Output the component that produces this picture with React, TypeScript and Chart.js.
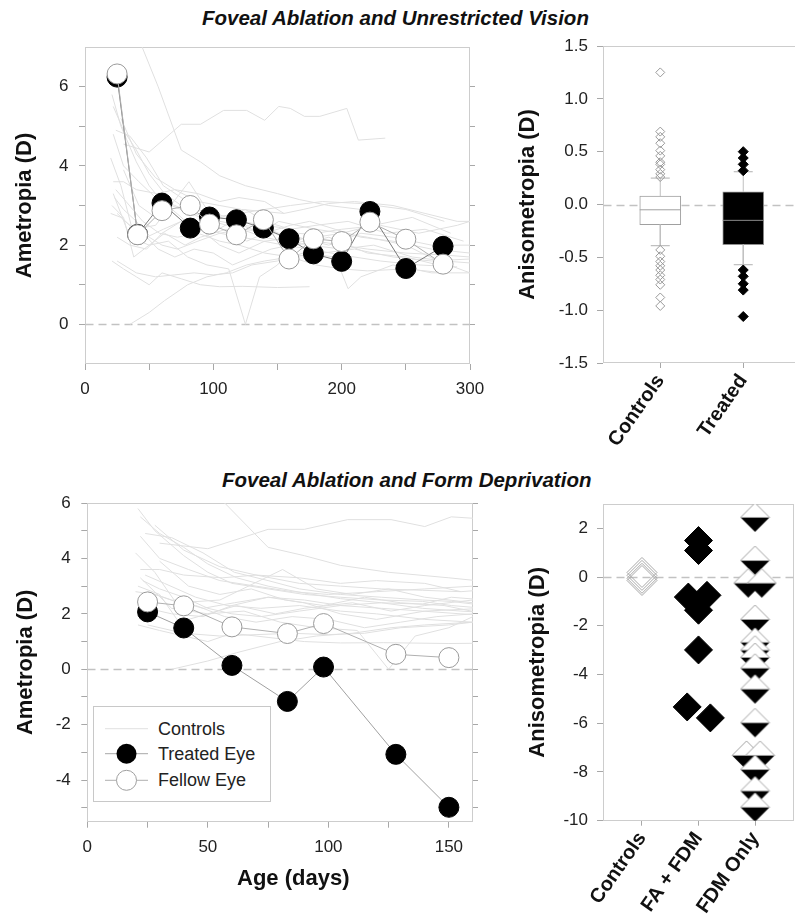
import React, { useEffect, useRef } from 'react';
import { Chart, registerables } from 'chart.js';

Chart.register(...registerables);

const FONT = '"Liberation Sans", Arial, Helvetica, sans-serif';
Chart.defaults.font.family = FONT;
Chart.defaults.color = '#222';

// ---------------- DATA ----------------
// Control animals: [age (days), ametropia (D)]
const ctrl01 = [[30, 4.55], [50, 4.35], [75, 5.05], [90, 5.05], [108, 5.4], [126, 5.4], [140, 5.15], [151, 5.5], [160, 5.45], [171, 5.25], [183, 5.25], [204, 5.45], [213, 4.65], [234, 4.7]];
const ctrl02 = [[42, 7.2], [57, 6.0], [75, 4.4], [90, 4.1], [105, 3.75], [125, 3.5], [150, 3.3], [167, 3.15], [190, 3.0], [215, 2.9]];
const ctrl03 = [[21, 5.8], [28, 5.0], [40, 4.1], [50, 3.5], [60, 3.1], [75, 2.9], [90, 2.7], [105, 2.6], [122, 2.5], [139, 2.45], [151, 2.3], [165, 2.2], [180, 2.1], [200, 2.0], [220, 1.9], [250, 1.8], [280, 1.75], [300, 1.7]];
const ctrl04 = [[22, 5.5], [30, 4.9], [40, 4.4], [50, 3.8], [62, 3.3], [75, 3.0], [90, 2.75], [105, 2.55], [122, 2.4], [139, 2.35], [151, 2.6], [165, 2.5], [180, 2.4], [200, 2.3], [220, 2.2], [250, 2.0], [275, 1.6], [300, 1.3]];
const ctrl05 = [[24, 4.9], [35, 4.75], [48, 4.2], [61, 3.5], [75, 3.2], [88, 2.9], [105, 2.7], [122, 2.6], [139, 2.5], [151, 2.45], [165, 2.3], [185, 2.25]];
const ctrl06 = [[20, 4.2], [28, 3.5], [36, 2.5], [48, 2.2], [61, 2.4], [75, 2.6], [90, 2.5], [105, 2.3], [122, 2.2], [139, 2.1], [155, 2.0], [175, 1.9], [200, 1.75], [230, 1.6], [260, 1.5], [290, 1.45]];
const ctrl07 = [[22, 3.6], [30, 3.6], [40, 3.4], [56, 3.3], [70, 3.4], [88, 3.1], [105, 3.0], [122, 2.9], [139, 2.85], [155, 2.8], [170, 2.9], [190, 3.05], [210, 3.1], [240, 3.0], [265, 2.8], [290, 2.6], [300, 2.6]];
const ctrl08 = [[23, 3.2], [30, 2.9], [40, 2.6], [50, 2.2], [60, 2.0], [72, 1.9], [88, 2.1], [105, 2.3], [122, 2.4], [139, 2.2], [155, 2.1], [175, 2.0], [200, 1.9], [225, 2.0], [255, 1.7], [280, 1.6], [300, 1.55]];
const ctrl09 = [[25, 2.8], [35, 2.5], [45, 2.3], [57, 1.9], [70, 1.7], [85, 1.9], [100, 1.8], [115, 1.5], [130, 1.7], [145, 1.9], [160, 2.0], [180, 2.2], [200, 2.3], [225, 2.5], [255, 2.7], [285, 2.3]];
const ctrl10 = [[21, 3.0], [30, 2.7], [38, 1.7], [50, 2.0], [62, 2.3], [78, 2.0], [90, 2.2], [110, 2.4], [126, 2.1], [140, 2.3], [160, 2.5], [175, 2.6], [195, 2.4], [215, 2.2], [240, 2.1], [270, 1.9], [300, 1.8]];
const ctrl11 = [[35, 0.0], [50, 0.3], [62, 0.6], [80, 1.0], [95, 1.2], [110, 1.3], [126, 1.5], [140, 1.6], [160, 1.7], [180, 1.5], [200, 1.4], [220, 1.35], [250, 1.4], [280, 1.3]];
const ctrl12 = [[22, 3.3], [35, 2.2], [50, 2.0], [65, 2.1], [80, 1.7], [95, 1.5], [112, 1.4], [125, 0.0], [136, 1.2], [150, 1.5], [165, 2.1], [180, 2.3], [200, 2.4], [230, 2.5], [260, 2.3], [290, 2.5], [300, 2.6]];
const ctrl13 = [[21, 1.6], [30, 1.4], [40, 1.2], [50, 1.0], [60, 1.3], [75, 1.15], [90, 1.0], [105, 0.95], [123, 0.96], [150, 0.93], [175, 0.95]];
const ctrl14 = [[25, 1.6], [40, 1.3], [55, 1.2], [70, 1.25], [85, 1.3], [100, 1.25], [115, 1.3], [130, 1.5], [150, 1.6], [170, 1.8], [195, 1.7], [205, 0.9], [215, 1.2], [240, 1.5], [270, 1.3], [300, 1.3]];
const ctrl15 = [[20, 2.8], [28, 2.7], [38, 2.4], [55, 2.5], [81, 3.6], [95, 2.9], [110, 2.7], [125, 2.9], [140, 2.6], [160, 2.4], [180, 2.5], [205, 2.6], [235, 2.3], [265, 2.4], [295, 2.1]];
const ctrl16 = [[24, 3.4], [32, 3.1], [45, 2.6], [58, 2.3], [72, 2.2], [88, 2.3], [105, 2.1], [120, 2.0], [140, 1.8], [160, 1.7], [185, 1.8], [210, 1.9], [240, 1.7], [270, 1.6], [300, 1.65]];
const ctrl17 = [[22, 4.8], [30, 4.0], [42, 3.6], [55, 3.2], [70, 3.0], [85, 2.8], [100, 2.7], [120, 2.8], [140, 2.9], [160, 3.0], [185, 3.1], [215, 3.05], [250, 2.9], [280, 2.6]];
const ctrl18 = [[28, 5.2], [40, 4.3], [55, 3.7], [70, 3.4], [88, 3.3], [105, 3.1], [120, 3.2], [140, 3.1], [155, 2.8]];
const ctrl19 = [[25, 2.2], [35, 2.0], [48, 1.9], [60, 2.3], [75, 2.6], [90, 2.4], [105, 2.0], [120, 1.8], [140, 2.1], [165, 2.2], [190, 2.0], [215, 2.3], [240, 2.2], [270, 2.0], [300, 2.0]];
const ctrl20 = [[30, 3.9], [42, 3.0], [55, 2.7], [68, 2.9], [82, 2.5], [98, 2.3], [115, 2.6], [130, 2.4], [148, 2.3], [165, 2.0], [190, 2.2], [220, 1.8], [250, 1.7], [275, 1.5]];
const controls = [ctrl01, ctrl02, ctrl03, ctrl04, ctrl05, ctrl06, ctrl07, ctrl08, ctrl09, ctrl10,
  ctrl11, ctrl12, ctrl13, ctrl14, ctrl15, ctrl16, ctrl17, ctrl18, ctrl19, ctrl20];

// Foveal ablation + unrestricted vision
const uvAges = [25, 41, 60, 82, 97, 118, 139, 159, 178, 200, 222, 250, 279];
const uvTreated = [6.24, 2.27, 3.06, 2.43, 2.71, 2.64, 2.43, 2.16, 1.78, 1.59, 2.85, 1.41, 1.97];
const uvFellow = [6.32, 2.26, 2.87, 3.0, 2.53, 2.26, 2.64, 1.65, 2.16, 2.09, 2.58, 2.15, 1.52];

// Foveal ablation + form deprivation
const fdAges = [25, 40, 60, 83, 98, 128, 150];
const fdTreated = [2.07, 1.49, 0.14, -1.16, 0.08, -3.07, -4.98];
const fdFellow = [2.43, 2.29, 1.53, 1.29, 1.65, 0.54, 0.42];

// Box plot (anisometropia, unrestricted vision)
const boxCats = ['Controls', 'Treated'];
const boxQ1 = [-0.19, -0.38];
const boxMedian = [-0.05, -0.15];
const boxQ3 = [0.08, 0.12];
const boxWhiskerLo = [-0.39, -0.57];
const boxWhiskerHi = [0.25, 0.31];
const boxCtrlOutliers = [1.25, 0.69, 0.64, 0.58, 0.51, 0.46, 0.4, 0.38, 0.33, 0.29, 0.26,
  -0.43, -0.49, -0.54, -0.58, -0.62, -0.67, -0.71, -0.76, -0.88, -0.96];
const boxTreatedOutliers = [0.5, 0.44, 0.38, 0.32, -0.62, -0.68, -0.75, -0.81, -1.06];

// Anisometropia, form deprivation
const anisoCats = ['Controls', 'FA + FDM', 'FDM Only'];
const anisoCtrlX = [1, 1, 1, 1];
const anisoCtrlY = [0.19, 0.07, -0.05, -0.14];
const anisoFaX = [2, 2, 1.82, 2.15, 2, 2, 1.8, 2.21];
const anisoFaY = [1.5, 1.09, -0.82, -0.75, -1.36, -2.99, -5.33, -5.78];
const anisoFdmX = [3, 3, 2.88, 3.12, 3, 3, 3, 3, 3, 3, 3, 2.85, 3.09, 3, 3, 3];
const anisoFdmY = [2.45, 0.68, -0.25, -0.25, -1.74, -2.68, -3.0, -3.3, -3.74, -4.6, -5.98, -7.32, -7.32, -7.9, -8.78, -9.45];

// Axis ticks
const uvXTicks = [0, 50, 100, 150, 200, 250, 300];
const uvYTicks = [0, 1, 2, 3, 4, 5, 6];
const fdXTicks = [0, 25, 50, 75, 100, 125, 150];
const fdYTicks = [-5, -4, -3, -2, -1, 0, 1, 2, 3, 4, 5, 6];
const boxYTicks = [-1.5, -1.0, -0.5, 0.0, 0.5, 1.0, 1.5];
const anisoYTicks = [-10, -8, -6, -4, -2, 0, 2];

// ---------------- HELPERS ----------------
const pts = (xs: number[], ys: number[]) => xs.map((x, i) => ({ x, y: ys[i] }));

const framePlugin = {
  id: 'frame',
  beforeDatasetsDraw(chart: any) {
    const { ctx, chartArea: a } = chart;
    const L = Math.round(a.left) + 0.5;
    const R = Math.round(a.right) - 0.5;
    const T = Math.round(a.top) + 0.5;
    const B = Math.round(a.bottom) - 0.5;
    ctx.save();
    ctx.strokeStyle = '#cdcdcd';
    ctx.lineWidth = 1;
    ctx.strokeRect(L, T, R - L, B - T);
    const y0 = Math.round(chart.scales.y.getPixelForValue(0)) + 0.5;
    ctx.setLineDash([8, 5]);
    ctx.strokeStyle = '#c2c2c2';
    ctx.lineWidth = 1.3;
    ctx.beginPath();
    ctx.moveTo(L, y0);
    ctx.lineTo(R, y0);
    ctx.stroke();
    ctx.restore();
  },
};

const setTicks = (vals: number[]) => (s: any) => {
  s.ticks = vals.map((v) => ({ value: v }));
};
// Fixed axis sizes; label overhang must not shrink the plot area
const fixW = (w: number) => (s: any) => { s.width = w; s.paddingTop = 0; s.paddingBottom = 0; };
const fixH = (h: number) => (s: any) => { s.height = h; s.paddingLeft = 0; s.paddingRight = 0; };

const tickGrid = { drawOnChartArea: false, tickLength: 6, color: '#a8a8a8', lineWidth: 1, offset: false };
const noBorder = { display: false };
const tickFont = { size: 17 };
const titleFont = { size: 22, weight: 'bold' as const };

function controlDatasets() {
  return controls.map((line) => ({
    type: 'line',
    data: line.map(([x, y]) => ({ x, y })),
    borderColor: '#e0e0e0',
    borderWidth: 1,
    pointRadius: 0,
    order: 5,
  }));
}

function eyeDatasets(ages: number[], treated: number[], fellow: number[], treatedLine: string) {
  return [
    {
      type: 'line', label: 'Fellow Eye', data: pts(ages, fellow),
      borderColor: '#b0b0b0', borderWidth: 1, pointRadius: 10,
      pointBackgroundColor: '#ffffff', pointBorderColor: '#9a9a9a', pointBorderWidth: 1, order: 1,
    },
    {
      type: 'line', label: 'Treated Eye', data: pts(ages, treated),
      borderColor: treatedLine, borderWidth: 1, pointRadius: 10,
      pointBackgroundColor: '#000000', pointBorderColor: '#000000', pointBorderWidth: 1, order: 2,
    },
  ];
}

function ametropiaConfig(p: any) {
  return {
    type: 'scatter',
    data: { datasets: [...eyeDatasets(p.ages, p.treated, p.fellow, p.treatedLine), ...controlDatasets()] },
    options: {
      responsive: false,
      animation: false,
      events: [],
      layout: { padding: { top: p.padTop, left: 0, right: 0, bottom: 0 }, autoPadding: false },
      plugins: { legend: { display: false }, tooltip: { enabled: false } },
      scales: {
        x: {
          type: 'linear', min: p.xMin, max: p.xMax, offset: false,
          afterBuildTicks: setTicks(p.xTicks),
          afterFit: fixH(p.xH),
          ticks: { callback: (v: number) => (v % p.xLabelStep === 0 ? String(v) : ''), font: tickFont, color: '#222', padding: 9, maxRotation: 0, autoSkip: false },
          grid: tickGrid, border: noBorder,
        },
        y: {
          type: 'linear', position: 'left', min: p.yMin, max: p.yMax,
          afterBuildTicks: setTicks(p.yTicks),
          afterFit: fixW(p.yW),
          ticks: { callback: (v: number) => (v % 2 === 0 ? String(v) : ''), font: tickFont, color: '#222', padding: 10.5, autoSkip: false },
          grid: tickGrid, border: noBorder,
          title: { display: true, text: 'Ametropia (D)', font: titleFont, color: '#111', padding: { top: p.yTitlePad, bottom: 0 } },
        },
        yR: {
          type: 'linear', position: 'right', min: p.yMin, max: p.yMax,
          afterBuildTicks: setTicks(p.yTicks),
          afterFit: fixW(p.yRW),
          ticks: { display: false },
          grid: { drawOnChartArea: false, tickLength: 5, color: '#a8a8a8' }, border: noBorder,
        },
      },
    },
    plugins: [framePlugin],
  };
}

function makeA() {
  return ametropiaConfig({
    ages: uvAges, treated: uvTreated, fellow: uvFellow, treatedLine: '#7a7a7a',
    padTop: 7, xMin: 0, xMax: 300, xTicks: uvXTicks, xLabelStep: 100, xH: 46,
    yMin: -1, yMax: 7, yTicks: uvYTicks, yW: 85, yRW: 24, yTitlePad: 11.8,
  });
}

function makeC() {
  return ametropiaConfig({
    ages: fdAges, treated: fdTreated, fellow: fdFellow, treatedLine: '#a0a0a0',
    padTop: 13, xMin: 0, xMax: 160, xTicks: fdXTicks, xLabelStep: 50, xH: 78.3,
    yMin: -5.5, yMax: 6, yTicks: fdYTicks, yW: 87.3, yRW: 7, yTitlePad: 12.3,
  });
}

function catAxis(cats: string[], min: number, max: number, h: number) {
  return {
    type: 'linear', min, max, offset: false,
    afterBuildTicks: setTicks(cats.map((_, i) => i + 1)),
    afterFit: fixH(h),
    ticks: {
      callback: (v: number) => cats[Math.round(v) - 1] || '',
      font: { size: 20, weight: 'bold' }, color: '#111',
      minRotation: 55, maxRotation: 55, autoSkip: false, padding: 2,
    },
    grid: { drawOnChartArea: false, tickLength: 5, color: '#a8a8a8', offset: false }, border: noBorder,
  };
}

function anisoYAxis(min: number, max: number, ticks: number[], fmt: (v: number) => string, w: number, pad: number) {
  return {
    type: 'linear', min, max,
    afterBuildTicks: setTicks(ticks),
    afterFit: fixW(w),
    ticks: { callback: fmt, font: tickFont, color: '#222', padding: 9, autoSkip: false },
    grid: tickGrid, border: noBorder,
    title: { display: true, text: 'Anisometropia (D)', font: titleFont, color: '#111', padding: { top: pad, bottom: 0 } },
  };
}

function makeB() {
  const whiskers: any[] = [];
  const caps: any[] = [];
  boxQ3.forEach((q3, i) => {
    const x = i + 1;
    whiskers.push({ x, y: q3 }, { x, y: boxWhiskerHi[i] }, { x, y: null },
      { x, y: boxQ1[i] }, { x, y: boxWhiskerLo[i] }, { x, y: null });
    caps.push({ x, y: boxWhiskerHi[i] }, { x, y: boxWhiskerLo[i] });
  });
  return {
    type: 'scatter',
    data: {
      datasets: [
        {
          type: 'scatter', data: boxCtrlOutliers.map((y) => ({ x: 1, y })),
          pointStyle: 'rectRot', pointRadius: 4.5, pointBackgroundColor: 'rgba(255,255,255,0)',
          pointBorderColor: '#9a9a9a', pointBorderWidth: 1, order: 0,
        },
        {
          type: 'scatter', data: boxTreatedOutliers.map((y) => ({ x: 2, y })),
          pointStyle: 'rectRot', pointRadius: 5, pointBackgroundColor: '#000',
          pointBorderColor: '#000', pointBorderWidth: 1, order: 0,
        },
        {
          type: 'scatter', data: pts([1, 2], boxMedian),
          pointStyle: 'line', pointRadius: 20.5, pointBorderColor: ['#a0a0a0', '#8a8a8a'], pointBorderWidth: 1, order: 1,
        },
        {
          type: 'scatter', data: caps,
          pointStyle: 'line', pointRadius: 9.5, pointBorderColor: '#b0b0b0', pointBorderWidth: 1, order: 2,
        },
        {
          type: 'line', data: whiskers, borderColor: '#c0c0c0', borderWidth: 1, pointRadius: 0, spanGaps: false, order: 3,
        },
        {
          type: 'bar', data: [1, 2].map((x, i) => ({ x, y: [boxQ1[i], boxQ3[i]] })),
          backgroundColor: ['#ffffff', '#000000'], borderColor: ['#a0a0a0', '#909090'],
          borderWidth: 1, borderSkipped: false, barThickness: 41, order: 4,
        },
      ],
    },
    options: {
      responsive: false, animation: false, events: [],
      layout: { padding: { top: 26, left: 0, right: 9.5, bottom: 0 }, autoPadding: false },
      plugins: { legend: { display: false }, tooltip: { enabled: false } },
      scales: {
        x: catAxis(boxCats, 0.31, 2.69, 97),
        y: anisoYAxis(-1.5, 1.5, boxYTicks, (v: number) => v.toFixed(1), 103, 14.8),
      },
    },
    plugins: [framePlugin],
  };
}

function halfDiamond(r: number) {
  const c = document.createElement('canvas');
  const s = Math.ceil(2 * r + 2);
  c.width = s;
  c.height = s;
  const g = c.getContext('2d') as CanvasRenderingContext2D;
  const m = s / 2;
  g.beginPath();
  g.moveTo(m - r, m);
  g.lineTo(m + r, m);
  g.lineTo(m, m + r);
  g.closePath();
  g.fillStyle = '#000';
  g.fill();
  g.beginPath();
  g.moveTo(m - r, m);
  g.lineTo(m, m - r);
  g.lineTo(m + r, m);
  g.closePath();
  g.fillStyle = '#fff';
  g.fill();
  g.strokeStyle = '#a0a0a0';
  g.lineWidth = 1;
  g.stroke();
  return c;
}

function makeD() {
  return {
    type: 'scatter',
    data: {
      datasets: [
        {
          data: pts(anisoFdmX, anisoFdmY), pointStyle: halfDiamond(14.5), pointRadius: 14.5, order: 0,
        },
        {
          data: pts(anisoFaX, anisoFaY), pointStyle: 'rectRot', pointRadius: 14,
          pointBackgroundColor: '#000', pointBorderColor: '#000', pointBorderWidth: 1, order: 1,
        },
        {
          data: pts(anisoCtrlX, anisoCtrlY), pointStyle: 'rectRot', pointRadius: 15,
          pointBackgroundColor: 'rgba(255,255,255,0)', pointBorderColor: '#a8a8a8', pointBorderWidth: 1, order: 2,
        },
      ],
    },
    options: {
      responsive: false, animation: false, events: [],
      layout: { padding: { top: 14, left: 0, right: 16, bottom: 0 }, autoPadding: false },
      plugins: { legend: { display: false }, tooltip: { enabled: false } },
      scales: {
        x: catAxis(anisoCats, 0.31, 3.69, 98.3),
        y: anisoYAxis(-10, 3, anisoYTicks, (v: number) => String(v), 103, 24.3),
      },
    },
    plugins: [framePlugin],
  };
}

function ChartBox({ x, y, w, h, make }: any) {
  const ref = useRef<HTMLCanvasElement | null>(null);
  useEffect(() => {
    const chart = new Chart(ref.current as HTMLCanvasElement, make());
    return () => chart.destroy();
  }, [make]);
  return (
    <canvas ref={ref} width={w} height={h}
      style={{ position: 'absolute', left: x, top: y, width: w, height: h, display: 'block' }} />
  );
}

function Legend() {
  const rowY = [21.7, 46.7, 73.3];
  const labels = ['Controls', 'Treated Eye', 'Fellow Eye'];
  return (
    <div style={{
      position: 'absolute', left: 93, top: 706, width: 178, height: 96, boxSizing: 'border-box',
      border: '1px solid #c8c8c8', background: '#fff', fontFamily: FONT, fontSize: 18, color: '#222',
    }}>
      <svg width={60} height={94} style={{ position: 'absolute', left: 0, top: 0 }}>
        <line x1={11} x2={54} y1={rowY[0]} y2={rowY[0]} stroke="#e0e0e0" strokeWidth={1} />
        <line x1={11} x2={54} y1={rowY[1]} y2={rowY[1]} stroke="#a8a8a8" strokeWidth={1} />
        <circle cx={32.5} cy={rowY[1]} r={10} fill="#000" />
        <line x1={11} x2={54} y1={rowY[2]} y2={rowY[2]} stroke="#b0b0b0" strokeWidth={1} />
        <circle cx={32.5} cy={rowY[2]} r={10} fill="#fff" stroke="#a0a0a0" strokeWidth={1} />
      </svg>
      {labels.map((t, i) => (
        <div key={t} style={{ position: 'absolute', left: 64, top: rowY[i] - 11, lineHeight: '22px', whiteSpace: 'nowrap' }}>{t}</div>
      ))}
    </div>
  );
}

const titleStyle: any = {
  position: 'absolute', whiteSpace: 'nowrap', fontFamily: FONT, fontStyle: 'italic',
  fontWeight: 'bold', fontSize: 20.5, lineHeight: '24px', color: '#111',
};

export default function App() {
  return (
    <div style={{ position: 'absolute', left: 0, top: 0, width: 795, height: 919, overflow: 'hidden', background: '#fff' }}>
      <div style={{ ...titleStyle, left: 202, top: 6 }}>Foveal Ablation and Unrestricted Vision</div>
      <ChartBox x={0} y={40} w={494} h={370} make={makeA} />
      <ChartBox x={500} y={20} w={310} h={440} make={makeB} />
      <div style={{ ...titleStyle, left: 222, top: 468 }}>Foveal Ablation and Form Deprivation</div>
      <ChartBox x={0} y={490} w={480} h={410} make={makeC} />
      <ChartBox x={500} y={490} w={310} h={429} make={makeD} />
      <div style={{
        position: 'absolute', left: 237, top: 865, lineHeight: '26px', whiteSpace: 'nowrap',
        fontFamily: FONT, fontWeight: 'bold', fontSize: 22, color: '#111',
      }}>Age (days)</div>
      <Legend />
    </div>
  );
}
